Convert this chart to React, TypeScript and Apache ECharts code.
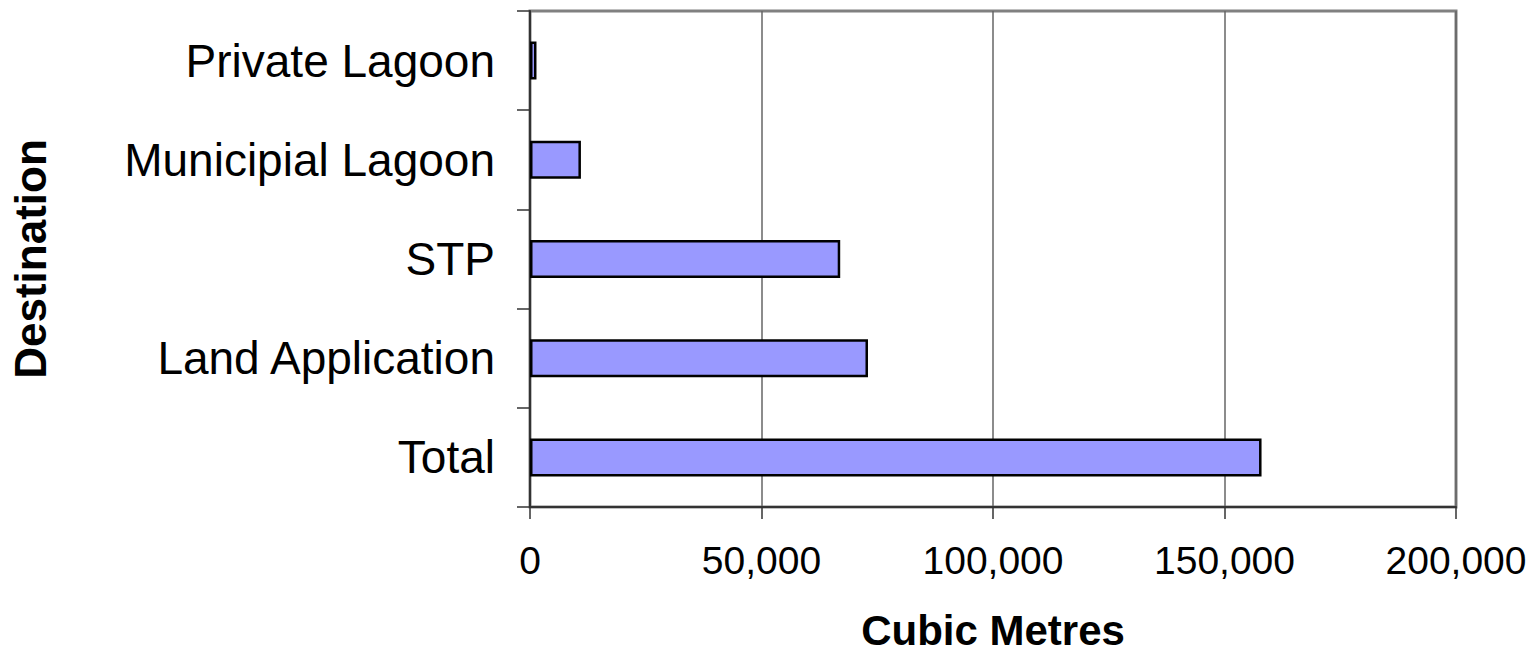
import React, { useEffect, useRef } from "react";
import * as echarts from "echarts";

// Destinations, listed bottom-to-top as the category axis draws them
const destinations = ["Total", "Land Application", "STP", "Municipial Lagoon", "Private Lagoon"];
// Volume sent to each destination, in cubic metres
const volumes = [158000, 73000, 67000, 11000, 1400];
// Value axis range and step
const axisMin = 0;
const axisMax = 200000;
const axisStep = 50000;

const FONT = "'Liberation Sans', Arial, Helvetica, sans-serif";

const formatThousands = (v: number) =>
  String(Math.round(v)).replace(/\B(?=(\d{3})+(?!\d))/g, ",");

export default function App() {
  const ref = useRef<HTMLDivElement>(null);

  useEffect(() => {
    if (!ref.current) return;
    const chart = echarts.init(ref.current, undefined, { renderer: "svg" });
    chart.setOption({
      animation: false,
      backgroundColor: "#ffffff",
      textStyle: { fontFamily: FONT, color: "#000" },
      grid: {
        left: 530,
        top: 11,
        right: 78,
        bottom: 145,
        show: true,
        borderColor: "#808080",
        borderWidth: 3,
        backgroundColor: "transparent",
        containLabel: false,
        outerBoundsMode: "none",
      },
      xAxis: {
        type: "value",
        min: axisMin,
        max: axisMax,
        interval: axisStep,
        name: "Cubic Metres",
        nameLocation: "middle",
        nameGap: 102,
        nameTextStyle: {
          fontFamily: FONT,
          fontSize: 42,
          lineHeight: 42,
          fontWeight: "bold",
          color: "#000",
        },
        axisLine: { show: true, lineStyle: { color: "#333", width: 2 } },
        axisTick: { show: true, inside: false, length: 12, lineStyle: { color: "#333", width: 1.5 } },
        splitLine: { show: true, lineStyle: { color: "#666", width: 1.5 } },
        axisLabel: {
          fontFamily: FONT,
          fontSize: 39,
          color: "#000",
          margin: 34,
          formatter: (v: number) => formatThousands(v),
        },
      },
      yAxis: {
        type: "category",
        data: destinations,
        boundaryGap: true,
        name: "Destination",
        nameLocation: "middle",
        nameGap: 478,
        nameRotate: 90,
        nameTextStyle: {
          fontFamily: FONT,
          fontSize: 44,
          fontWeight: "bold",
          color: "#000",
        },
        axisLine: { show: true, lineStyle: { color: "#333", width: 2 } },
        axisTick: { show: true, inside: false, length: 13, alignWithLabel: false, lineStyle: { color: "#333", width: 1.5 } },
        splitLine: { show: false },
        axisLabel: {
          fontFamily: FONT,
          fontSize: 46,
          color: "#000",
          margin: 35,
        },
      },
      series: [
        {
          type: "bar",
          data: volumes,
          barWidth: 38,
          itemStyle: {
            color: "#9999FF",
            borderColor: "#000",
            borderWidth: 2.5,
          },
        },
      ],
    });
    return () => chart.dispose();
  }, []);

  return (
    <div
      ref={ref}
      style={{ position: "fixed", left: 0, top: 0, width: 1534, height: 652, background: "#fff" }}
    />
  );
}
